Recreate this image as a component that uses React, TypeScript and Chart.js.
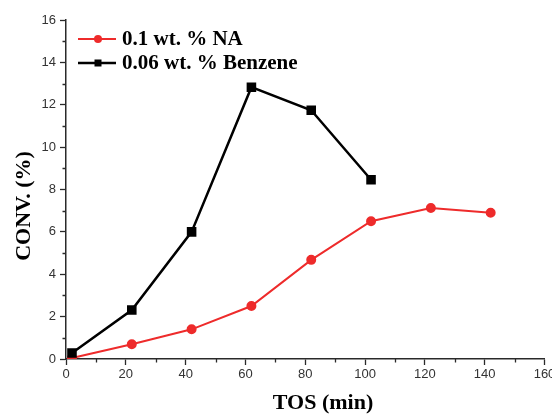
import React, { useEffect, useRef } from "react";
import { Chart, registerables } from "chart.js";

Chart.register(...registerables);

// Time on stream (min)
const tosNA = [2, 22, 42, 62, 82, 102, 122, 142];
const convNA = [0.05, 0.7, 1.4, 2.5, 4.68, 6.5, 7.13, 6.9];

const tosBenzene = [2, 22, 42, 62, 82, 102];
const convBenzene = [0.28, 2.31, 6.0, 12.83, 11.74, 8.46];

const seriesLabels = ["0.1 wt. % NA", "0.06 wt. % Benzene"];
const seriesColors = ["#ee2b2b", "#000000"];

const xTitle = "TOS (min)";
const yTitle = "CONV. (%)";

const AXIS_COLOR = "#2a2a2a";
const SERIF = "'Liberation Serif', 'Times New Roman', serif";
const TICK_FONT = { family: "'Liberation Sans', Arial, sans-serif", size: 13 };

// Minor ticks, axis titles and the in-plot legend
const decorPlugin = {
  id: "decor",
  afterDraw(chart: any) {
    const { ctx } = chart;
    const xs = chart.scales.x;
    const ys = chart.scales.y;
    const area = chart.chartArea;
    ctx.save();
    ctx.strokeStyle = AXIS_COLOR;
    ctx.lineWidth = 1.3;
    ctx.beginPath();
    for (let v = 10; v < 160; v += 20) {
      const px = Math.round(xs.getPixelForValue(v)) + 0.5;
      ctx.moveTo(px, area.bottom);
      ctx.lineTo(px, area.bottom + 3.5);
    }
    for (let v = 1; v < 16; v += 2) {
      const py = Math.round(ys.getPixelForValue(v)) + 0.5;
      ctx.moveTo(area.left, py);
      ctx.lineTo(area.left - 3.5, py);
    }
    ctx.stroke();

    // axis titles
    ctx.fillStyle = "#000";
    ctx.font = `bold 22px ${SERIF}`;
    ctx.textAlign = "center";
    ctx.textBaseline = "middle";
    ctx.fillText(xTitle, 323, 403);
    ctx.save();
    ctx.translate(24, 206);
    ctx.rotate(-Math.PI / 2);
    ctx.fillText(yTitle, 0, 0);
    ctx.restore();

    // legend
    const lx0 = area.left + 12;
    const lx1 = area.left + 50;
    const rows = [area.top + 19, area.top + 43];
    ctx.font = `bold 21px ${SERIF}`;
    ctx.textAlign = "left";
    rows.forEach((y, i) => {
      ctx.strokeStyle = seriesColors[i];
      ctx.fillStyle = seriesColors[i];
      ctx.lineWidth = i === 0 ? 2 : 2.5;
      ctx.beginPath();
      ctx.moveTo(lx0, y);
      ctx.lineTo(lx1, y);
      ctx.stroke();
      const cx = area.left + 32;
      ctx.beginPath();
      if (i === 0) {
        ctx.arc(cx, y, 4, 0, Math.PI * 2);
      } else {
        ctx.rect(cx - 3.5, y - 3.5, 7, 7);
      }
      ctx.fill();
      ctx.fillStyle = "#000";
      ctx.fillText(seriesLabels[i], area.left + 56, y + 1);
    });
    ctx.restore();
  },
};

export default function App() {
  const canvasRef = useRef<HTMLCanvasElement | null>(null);

  useEffect(() => {
    document.body.style.margin = "0";
    const canvas = canvasRef.current;
    if (!canvas) return;
    const chart = new Chart(canvas, {
      type: "line",
      data: {
        datasets: [
          {
            label: seriesLabels[1],
            data: tosBenzene.map((x, i) => ({ x, y: convBenzene[i] })),
            borderColor: seriesColors[1],
            backgroundColor: seriesColors[1],
            borderWidth: 2.5,
            pointStyle: "rect",
            pointRadius: 5,
            pointHoverRadius: 5,
            tension: 0,
          },
          {
            label: seriesLabels[0],
            data: tosNA.map((x, i) => ({ x, y: convNA[i] })),
            borderColor: seriesColors[0],
            backgroundColor: seriesColors[0],
            borderWidth: 2,
            pointStyle: "circle",
            pointRadius: 4,
            pointHoverRadius: 4,
            tension: 0,
          },
        ],
      },
      options: {
        animation: false,
        responsive: false,
        maintainAspectRatio: false,
        events: [],
        layout: { padding: { left: 0, top: 20, right: 3, bottom: 0 } },
        plugins: {
          legend: { display: false },
          tooltip: { enabled: false },
        },
        scales: {
          x: {
            type: "linear",
            min: 0,
            max: 160,
            border: { display: true, color: AXIS_COLOR, width: 1.5 },
            grid: { display: true, drawOnChartArea: false, drawTicks: true, tickLength: 6, tickColor: AXIS_COLOR, tickWidth: 1.3 },
            ticks: { stepSize: 20, color: "#333", font: TICK_FONT, padding: 2, maxRotation: 0, autoSkip: false },
            afterFit(scale: any) {
              scale.height = 55;
              scale.paddingRight = 0;
              scale.paddingLeft = 0;
            },
          },
          y: {
            type: "linear",
            min: 0,
            max: 16,
            border: { display: true, color: AXIS_COLOR, width: 1.5 },
            grid: { display: true, drawOnChartArea: false, drawTicks: true, tickLength: 6, tickColor: AXIS_COLOR, tickWidth: 1.3 },
            ticks: { stepSize: 2, color: "#333", font: TICK_FONT, padding: 4 },
            afterFit(scale: any) {
              scale.width = 66;
              scale.paddingTop = 0;
              scale.paddingBottom = 0;
            },
          },
        },
      },
      plugins: [decorPlugin],
    });
    return () => chart.destroy();
  }, []);

  return (
    <div style={{ position: "fixed", left: 0, top: 0, width: 552, height: 414, background: "#fff" }}>
      <canvas ref={canvasRef} width={552} height={414} style={{ display: "block" }} />
    </div>
  );
}
